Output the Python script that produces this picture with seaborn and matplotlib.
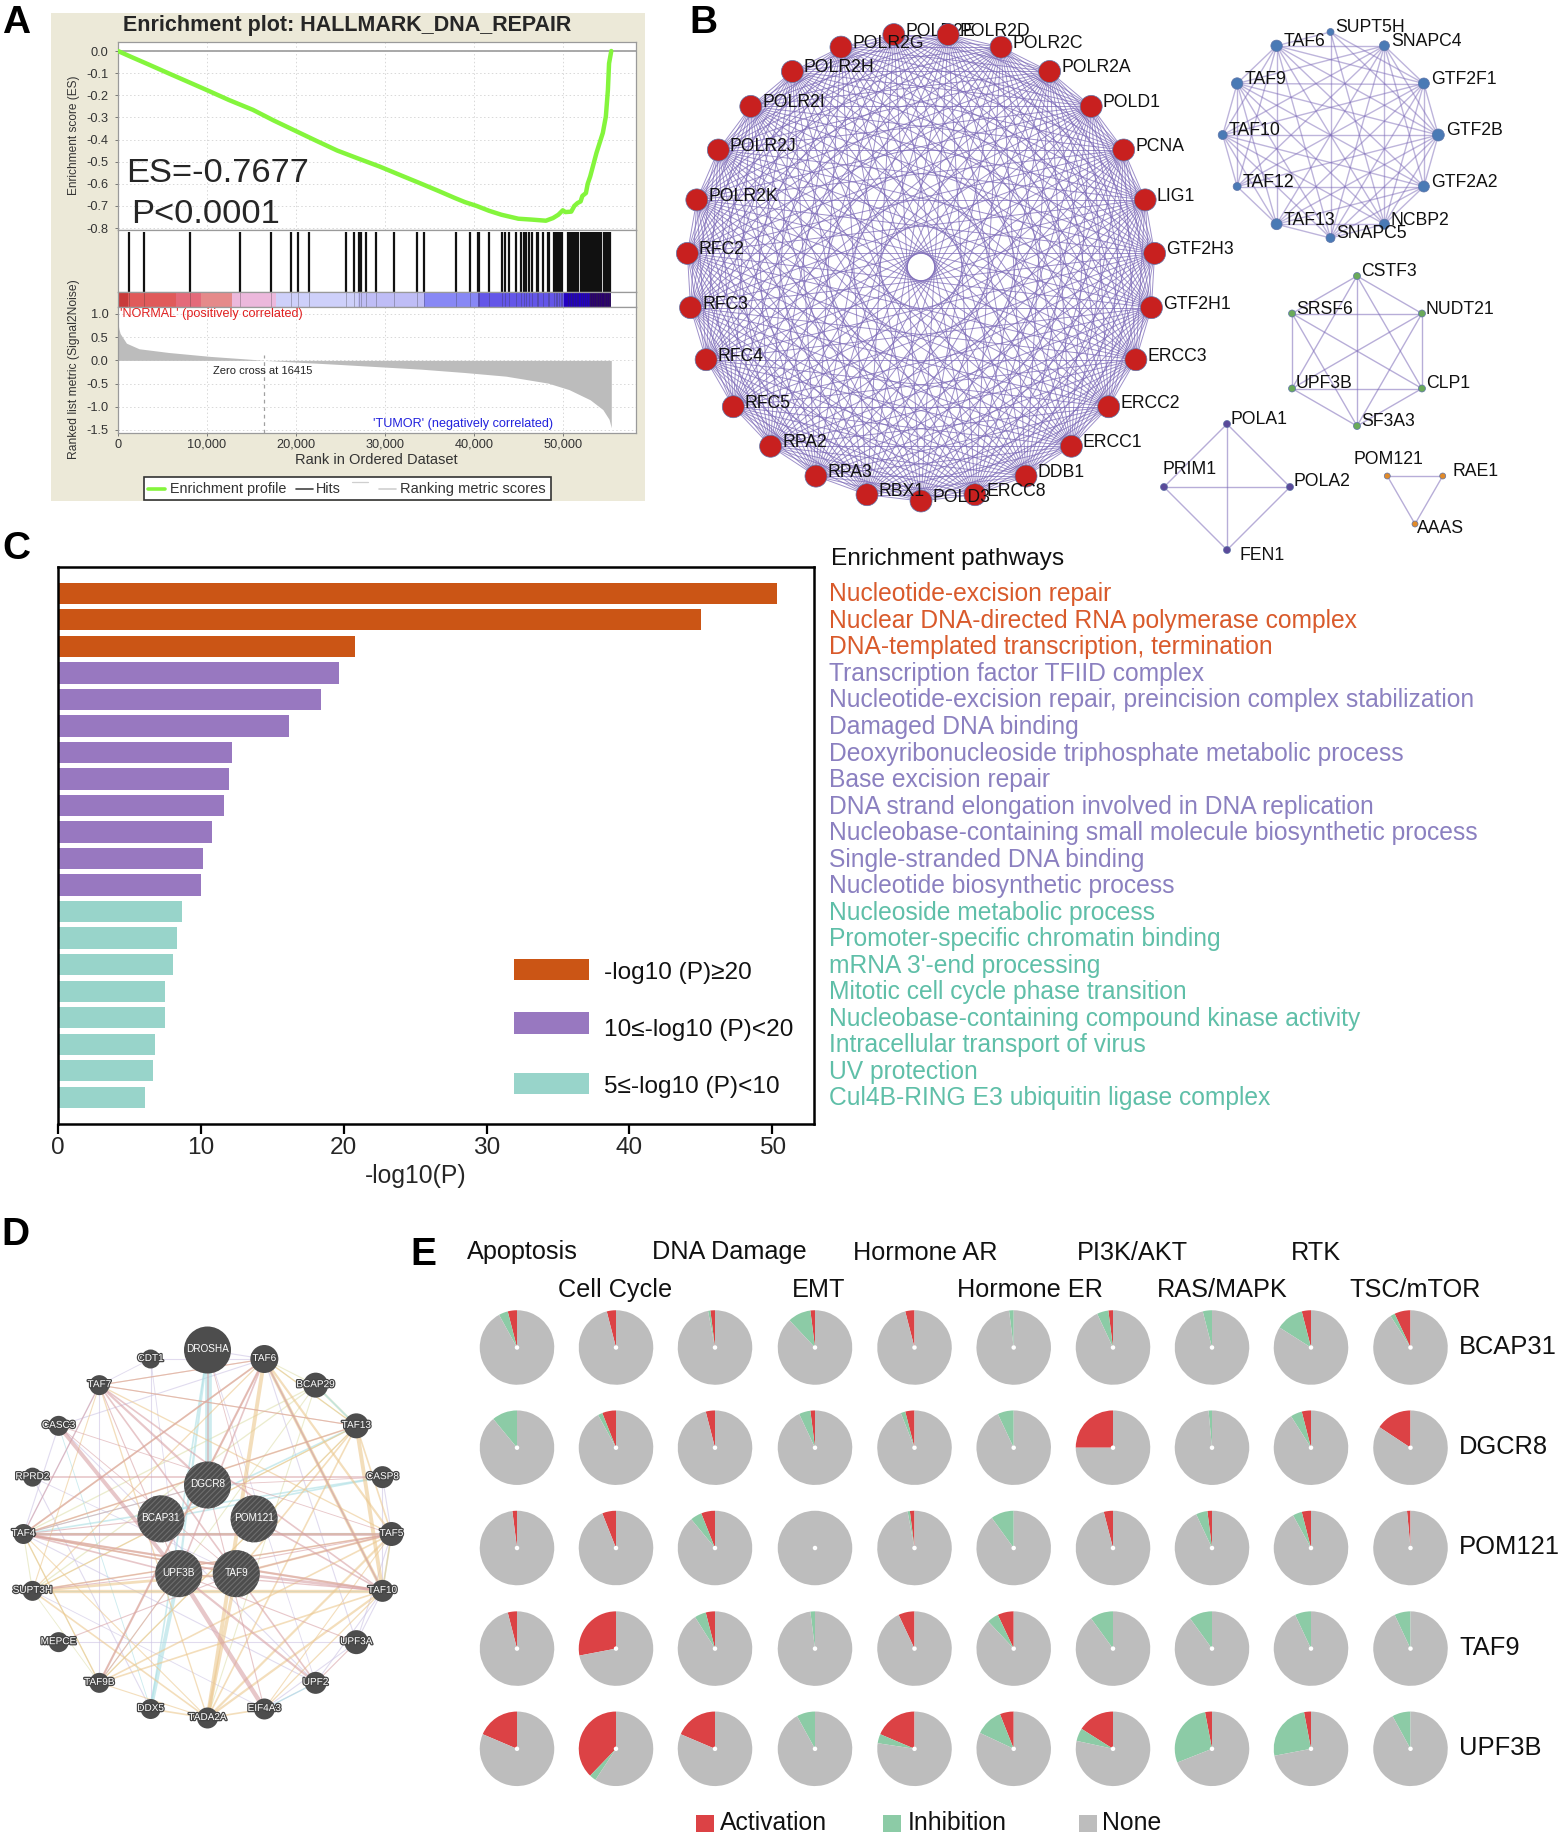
import itertools
import numpy as np
import pandas as pd
import matplotlib
matplotlib.use("Agg")
import matplotlib.pyplot as plt
import matplotlib.patheffects as pe
from matplotlib.patches import Circle, Rectangle
import seaborn as sns

# --- Panel A data ---
ES_RANK = [0, 1500, 3500, 5690, 7800, 9950, 12500, 15170, 17500, 19900, 22300, 24650, 27000, 29400, 31800,
           34100, 36000, 37900, 39000, 40300, 41700, 43100, 45000, 46500, 48100, 48900, 49500, 50000, 50300, 50950,
           51300, 51660, 52000, 52200, 52600, 52800, 53080, 53790, 54500, 54840, 55070, 55200, 55450]
ES_VALUE = [0.0, -0.027, -0.062, -0.101, -0.138, -0.176, -0.222, -0.266, -0.314, -0.36, -0.406, -0.45, -0.486,
            -0.522, -0.562, -0.60, -0.632, -0.665, -0.683, -0.70, -0.722, -0.74, -0.758, -0.762, -0.767, -0.755,
            -0.74, -0.72, -0.728, -0.726, -0.70, -0.687, -0.68, -0.655, -0.642, -0.60, -0.567, -0.46, -0.37, -0.296,
            -0.176, -0.056, 0.0]
HIT_RANKS = [1280, 2890, 8100, 13740, 17200, 19480, 20280, 21470, 25640, 26540, 27110, 27340, 27870, 28960, 30990,
             33650, 34450, 38050, 39520, 40420, 40610, 41750, 43220, 43460, 43930, 44790, 45350, 45640, 45870,
             46250, 46540, 47150, 47250, 47820, 48340, 48430, 49000, 49190, 49380, 49570, 49760, 49950, 50610,
             50800, 50990, 51180, 51370, 51560, 51750, 52040, 52220, 52510, 52700, 52900, 53100, 53300, 53500,
             53700, 53900, 54100, 54260, 54600, 54800, 55000, 55200, 55350]
BAND_EDGES = [0, 1180, 6540, 9380, 12800, 17770, 27000, 34360, 40420, 50140, 53080, 55450]
BAND_COLORS = ["#c83a3a", "#e05a5a", "#e46a7a", "#e58a8a", "#ecb8dc", "#ced0fa", "#bfbdf6", "#8888f5", "#6456e8",
               "#2200c0", "#2a006e"]
METRIC_RANK = [0, 100, 237, 950, 2370, 5690, 10400, 15170, 16415, 24650, 34100, 38870, 43600, 48340, 50700, 53080,
               54500, 55200, 55450]
METRIC_VALUE = [0.8, 0.68, 0.58, 0.37, 0.25, 0.17, 0.085, 0.02, 0.0, -0.085, -0.19, -0.26, -0.34, -0.49, -0.63,
                -0.85, -1.06, -1.27, -1.45]

# --- Panel B data ---
BIG_NODES = ["POLR2E", "POLR2D", "POLR2C", "POLR2A", "POLD1", "PCNA", "LIG1", "GTF2H3", "GTF2H1", "ERCC3", "ERCC2",
             "ERCC1", "DDB1", "ERCC8", "POLD3", "RBX1", "RPA3", "RPA2", "RFC5", "RFC4", "RFC3", "RFC2", "POLR2K",
             "POLR2J", "POLR2I", "POLR2H", "POLR2G"]
BLUE_NODES = ["SUPT5H", "SNAPC4", "GTF2F1", "GTF2B", "GTF2A2", "NCBP2", "SNAPC5", "TAF13", "TAF12", "TAF10", "TAF9",
              "TAF6"]
BLUE_RADII = [3.5, 5, 5.5, 6, 5.5, 5, 4.5, 5.5, 4, 4.5, 5.7, 5.7]
BLUE_MISSING = [("SUPT5H", "SNAPC4"), ("SUPT5H", "TAF9"), ("SUPT5H", "TAF10"), ("SUPT5H", "TAF12"),
                ("SUPT5H", "TAF13"), ("TAF12", "NCBP2"), ("TAF12", "SNAPC5"), ("SUPT5H", "GTF2A2")]
GREEN_NODES = ["CSTF3", "NUDT21", "CLP1", "SF3A3", "UPF3B", "SRSF6"]
POLA_NODES = ["POLA1", "POLA2", "FEN1", "PRIM1"]
POLA_OFFSETS = [(3.5, -5), (3.5, -5.5), (12.5, 5), (-2, -17)]
POM_NODES = ["POM121", "RAE1", "AAAS"]
POM_OFFSETS = [(-34, -16), (10, -5), (2, 4.5)]

# --- Panel C data ---
PATHWAYS = ["Nucleotide-excision repair", "Nuclear DNA-directed RNA polymerase complex",
            "DNA-templated transcription, termination", "Transcription factor TFIID complex",
            "Nucleotide-excision repair, preincision complex stabilization", "Damaged DNA binding",
            "Deoxyribonucleoside triphosphate metabolic process", "Base excision repair",
            "DNA strand elongation involved in DNA replication",
            "Nucleobase-containing small molecule biosynthetic process", "Single-stranded DNA binding",
            "Nucleotide biosynthetic process", "Nucleoside metabolic process", "Promoter-specific chromatin binding",
            "mRNA 3'-end processing", "Mitotic cell cycle phase transition",
            "Nucleobase-containing compound kinase activity", "Intracellular transport of virus", "UV protection",
            "Cul4B-RING E3 ubiquitin ligase complex"]
LOG_P = [50.3, 45.0, 20.8, 19.7, 18.4, 16.2, 12.2, 12.0, 11.65, 10.8, 10.2, 10.06, 8.7, 8.36, 8.06, 7.5, 7.5, 6.84,
         6.7, 6.14]
GROUP_NAMES = ["-log10 (P)≥20", "10≤-log10 (P)<20", "5≤-log10 (P)<10"]
GROUP_COLORS = ["#cb5515", "#9878c0", "#98d4ca"]
LABEL_COLORS = ["#d95a2b", "#8b80c0", "#5fbfa8"]

# --- Panel D data ---
OUTER_NODES = ["DROSHA", "TAF6", "BCAP29", "TAF13", "CASP8", "TAF5", "TAF10", "UPF3A", "UPF2", "EIF4A3", "TADA2A",
               "DDX5", "TAF9B", "MEPCE", "SUPT3H", "TAF4", "RPRD2", "CASC3", "TAF7", "CDT1"]
OUTER_RADII = [23.5, 14, 12.5, 12.5, 11, 12, 11, 12, 11, 10.5, 10.5, 10, 10, 10, 10, 10, 9.5, 10, 10, 9.5]
INNER_NODES = ["DGCR8", "POM121", "TAF9", "UPF3B", "BCAP31"]
PINK_EDGES = [("CASC3", "UPF3B", 3.5), ("UPF3B", "EIF4A3", 4), ("TAF4", "TAF5", 2.5), ("TAF4", "TAF10", 2),
              ("TAF7", "TAF10", 1.5), ("TAF7", "DGCR8", 2), ("TAF7", "TAF9", 1.5), ("TAF9B", "TAF6", 2),
              ("UPF3B", "UPF2", 2), ("TAF9", "UPF2", 1.5), ("TAF6", "TAF10", 1.5), ("TAF6", "UPF3B", 1.5),
              ("TAF4", "TAF9", 1.5), ("TAF4", "UPF3B", 1.5), ("RPRD2", "CASP8", 1.5), ("TAF7", "TAF13", 1),
              ("TAF7", "TAF6", 1), ("DROSHA", "DGCR8", 1.5), ("SUPT3H", "TAF5", 1), ("MEPCE", "TAF9", 1),
              ("CASC3", "TAF5", 0.8), ("TAF9", "TAF10", 2.5), ("POM121", "TAF10", 1.5), ("TAF13", "TAF4", 1),
              ("EIF4A3", "DGCR8", 1), ("UPF3A", "UPF2", 1), ("CASC3", "TAF9", 0.8), ("TAF7", "UPF3B", 1),
              ("TAF4", "DGCR8", 1), ("TAF4", "BCAP31", 1), ("TAF4", "TAF7", 1), ("TAF6", "TAF4", 1.5),
              ("CASP8", "DGCR8", 0.8), ("UPF3A", "UPF3B", 1), ("TAF9B", "UPF3B", 1), ("SUPT3H", "UPF3B", 1),
              ("TAF5", "UPF3B", 1), ("TAF10", "UPF3B", 1.2), ("TAF5", "TAF9", 1.2), ("DROSHA", "POM121", 0.8)]
TAN_EDGES = [("TAF6", "TADA2A", 3.5), ("TAF9", "TADA2A", 3), ("TAF13", "TAF10", 3.5), ("TAF6", "TAF10", 3),
             ("TAF6", "TAF5", 2), ("SUPT3H", "TAF10", 3), ("SUPT3H", "TAF9", 2.5), ("TADA2A", "TAF10", 2),
             ("TADA2A", "TAF5", 2), ("TADA2A", "TAF13", 1.5), ("TAF4", "TAF6", 1.5), ("TAF4", "TAF13", 1.5),
             ("TAF4", "TAF9", 1.5), ("TAF7", "TADA2A", 1.2), ("TAF7", "TAF5", 1.2), ("TAF9B", "TAF10", 1.5),
             ("TAF9B", "TAF5", 1.5), ("TAF9B", "TAF13", 1.2), ("SUPT3H", "TADA2A", 1.5), ("SUPT3H", "TAF6", 1.2),
             ("SUPT3H", "TAF13", 1.2), ("TAF13", "TAF5", 1.5), ("TADA2A", "DDX5", 1.5), ("TADA2A", "EIF4A3", 1.5),
             ("TAF9", "TAF5", 2), ("TAF4", "TAF10", 1.5), ("TAF13", "TAF9", 1.5), ("SUPT3H", "TAF7", 1),
             ("TAF7", "TAF6", 1), ("TADA2A", "TAF9B", 1), ("TAF4", "TADA2A", 1), ("TAF4", "TAF5", 1.5),
             ("TAF7", "TAF13", 1), ("TAF6", "TAF13", 1), ("TAF10", "TAF5", 1.5), ("TAF10", "EIF4A3", 1.2),
             ("TAF5", "EIF4A3", 1), ("TAF4", "TAF9B", 1.2), ("TAF9B", "TAF6", 1.2), ("SUPT3H", "TAF5", 1.5)]
LAVENDER_EDGES = [("CDT1", "DDX5", 1), ("TAF7", "TAF9B", 1), ("DROSHA", "TAF6", 1), ("CDT1", "TAF6", 1),
                  ("CASC3", "UPF2", 1), ("RPRD2", "DDX5", 1), ("MEPCE", "UPF3A", 1), ("TAF6", "UPF3A", 1),
                  ("EIF4A3", "UPF3A", 1), ("TAF10", "UPF2", 1), ("TAF4", "UPF2", 1), ("TAF5", "UPF3A", 1),
                  ("TAF4", "TAF7", 1.2), ("CASC3", "TAF6", 1), ("SUPT3H", "EIF4A3", 0.8), ("DROSHA", "UPF2", 0.8),
                  ("CDT1", "UPF3B", 0.8), ("TAF7", "CDT1", 0.8), ("RPRD2", "TAF9", 0.8), ("UPF3A", "TAF10", 1),
                  ("CASP8", "TAF5", 1), ("CASP8", "TAF10", 1), ("EIF4A3", "UPF2", 1), ("CASC3", "TAF4", 1)]
CYAN_EDGES = [("DROSHA", "DGCR8", 6), ("DROSHA", "UPF3B", 2), ("DDX5", "UPF3B", 3.5), ("DDX5", "DROSHA", 1.5),
              ("TAF4", "TAF5", 2), ("TAF4", "CASP8", 1.5), ("BCAP31", "TAF13", 1.5), ("TAF6", "TAF10", 1.2),
              ("CASC3", "DDX5", 0.8), ("SUPT3H", "TAF10", 1), ("EIF4A3", "UPF2", 1.2), ("BCAP29", "TAF13", 1.5),
              ("TAF4", "DGCR8", 1), ("TAF5", "TAF10", 1.2), ("BCAP31", "CASP8", 1.5)]
OLIVE_EDGES = [("BCAP29", "TAF13", 2), ("BCAP29", "TAF4", 1.2), ("BCAP29", "SUPT3H", 1.2), ("TAF13", "TAF9B", 1),
               ("SUPT3H", "TAF13", 1), ("TAF6", "TAF13", 1.2), ("TAF4", "TAF9B", 1), ("BCAP29", "TAF9B", 1),
               ("TAF6", "BCAP29", 1), ("TAF4", "SUPT3H", 1), ("BCAP29", "TADA2A", 1), ("SUPT3H", "TAF9B", 0.8)]

# --- Panel E data ---
PIE_GENES = ["BCAP31", "DGCR8", "POM121", "TAF9", "UPF3B"]
PIE_HEADERS = ["Apoptosis", "Cell Cycle", "DNA Damage", "EMT", "Hormone AR", "Hormone ER", "PI3K/AKT", "RAS/MAPK",
               "RTK", "TSC/mTOR"]
ACTIVATION = [[4, 4, 2, 2, 4, 0, 2, 0, 4, 7],
              [0, 6, 4, 2, 4, 0, 25, 0, 4, 15.7],
              [2, 6, 6, 0, 2, 0, 4, 2, 4, 1.5],
              [4, 28, 4, 0, 7, 7, 0, 0, 0, 0],
              [18.6, 37.8, 18.6, 0, 18.6, 6, 16, 3, 3, 0]]
INHIBITION = [[4, 0, 1, 10, 0, 2, 5, 4, 12, 2],
              [11, 2, 0, 5, 2, 7, 0, 1.5, 5, 0],
              [0, 0, 5, 0, 1, 10, 0, 5, 4, 0],
              [0, 0, 5, 2, 0, 5, 10, 10, 7, 7],
              [0, 2.9, 0, 8, 4, 12, 5.6, 28, 25, 8]]
PIE_COLORS = ["#dc4245", "#8ccba6", "#bdbdbd"]

W, H = 1562, 1838
GRAPH_PURPLE = "#7d6bb8"

sns.set_theme(style="white")
plt.rcParams["font.family"] = ["Liberation Sans", "DejaVu Sans"]
plt.rcParams["hatch.linewidth"] = 0.8
fig = plt.figure(figsize=(W / 100, H / 100), dpi=100, facecolor="white")


def add_ax(x0, y0, x1, y1, **kwargs):
    # axes from reference pixel box
    return fig.add_axes([x0 / W, 1 - y1 / H, (x1 - x0) / W, (y1 - y0) / H], **kwargs)


def ring(names, cx, cy, r, start=90.0, ry=None):
    # clockwise circular layout
    ry = r if ry is None else ry
    step = 360.0 / len(names)
    out = {}
    for i, name in enumerate(names):
        a = np.deg2rad(start - i * step)
        out[name] = (cx + r * np.cos(a), cy - ry * np.sin(a))
    return out


def pixel_layer(zorder):
    ax = add_ax(0, 0, W, H, zorder=zorder)
    ax.set_xlim(0, W)
    ax.set_ylim(H, 0)
    ax.axis("off")
    ax.patch.set_visible(False)
    return ax


# beige backing goes below the GSEA axes, everything free-standing goes above
back = pixel_layer(0)
page = pixel_layer(3)

for letter, x, y in [("A", 2, 33), ("B", 689, 33), ("C", 2, 559), ("D", 1, 1245), ("E", 410, 1265)]:
    page.text(x, y, letter, fontsize=28, fontweight="bold", color="black", va="baseline", ha="left", zorder=10)

# ------ Panel A ------
back.add_patch(Rectangle((50.6, 13), 594.4, 488, facecolor="#ece9d8", edgecolor="none", zorder=0))
page.text(347.5, 25, "Enrichment plot: HALLMARK_DNA_REPAIR", fontsize=15.5, fontweight="bold", ha="center", va="center")

X_MAX = 58195
x_ticks = [0, 10000, 20000, 30000, 40000, 50000]
ax_es = add_ax(118, 42, 635.7, 230, zorder=2)
ax_hits = add_ax(118, 230, 635.7, 292, zorder=2)
ax_band = add_ax(118, 292, 635.7, 307, zorder=2)
ax_metric = add_ax(118, 307, 635.7, 433, zorder=2)

sns.lineplot(x=ES_RANK, y=ES_VALUE, ax=ax_es, color="#84f53c", linewidth=3.2, sort=False, errorbar=None, zorder=3)
ax_es.axhline(0, color="#a8a8a8", lw=1.4, zorder=2)
ax_es.set_xlim(0, X_MAX)
ax_es.set_ylim(-0.809, 0.0407)
ax_es.set_yticks([0, -0.1, -0.2, -0.3, -0.4, -0.5, -0.6, -0.7, -0.8])
ax_es.set_yticklabels(["0.0", "-0.1", "-0.2", "-0.3", "-0.4", "-0.5", "-0.6", "-0.7", "-0.8"])
ax_es.set_xticks(x_ticks)
ax_es.tick_params(labelbottom=False)
ax_es.text(870, -0.553, "ES=-0.7677", fontsize=24.8, va="center")
ax_es.text(1500, -0.738, "P<0.0001", fontsize=24.8, va="center")

ax_hits.vlines(HIT_RANKS, 0, 0.96, color="#111111", lw=1.6)
ax_hits.set_xlim(0, X_MAX)
ax_hits.set_ylim(0, 1)
ax_hits.set_xticks([])
ax_hits.set_yticks([])

for i, c in enumerate(BAND_COLORS):
    ax_band.axvspan(BAND_EDGES[i], BAND_EDGES[i + 1], color=c, lw=0)
ax_band.vlines(HIT_RANKS, 0, 1, color="#333333", lw=0.6, alpha=0.35)
ax_band.set_xlim(0, X_MAX)
ax_band.set_ylim(0, 1)
ax_band.set_xticks([])
ax_band.set_yticks([])

ax_metric.fill_between(METRIC_RANK, METRIC_VALUE, 0, color="#bcbcbc", lw=0, zorder=2)
ax_metric.axvline(16415, color="#a0a0a0", lw=0.9, ls=(0, (3, 3)), ymax=0.62, zorder=3)
ax_metric.set_xlim(0, X_MAX)
ax_metric.set_ylim(-1.565, 1.15)
ax_metric.set_yticks([1.0, 0.5, 0.0, -0.5, -1.0, -1.5])
ax_metric.set_yticklabels(["1.0", "0.5", "0.0", "-0.5", "-1.0", "-1.5"])
ax_metric.set_xticks(x_ticks)
ax_metric.set_xticklabels(["0", "10,000", "20,000", "30,000", "40,000", "50,000"])
ax_metric.text(250, 1.0, "'NORMAL' (positively correlated)", color="#e02020", fontsize=9.1, va="center")
ax_metric.text(28700, -1.38, "'TUMOR' (negatively correlated)", color="#2222dd", fontsize=9.1, va="center", ha="left")
ax_metric.text(10700, -0.235, "Zero cross at 16415", color="#222222", fontsize=8.0, va="center")

for ax in (ax_es, ax_metric):
    ax.grid(True, color="#d8d8d8", lw=0.7, ls=(0, (1.5, 2.5)))
    ax.set_axisbelow(True)
    ax.tick_params(axis="y", labelsize=9.2, length=2, width=0.6, color="#666666", pad=5, labelcolor="#333333", left=True)
    ax.tick_params(axis="x", labelsize=9.2, length=2, width=0.6, color="#666666", pad=2, labelcolor="#333333", bottom=True)
for ax in (ax_es, ax_hits, ax_band, ax_metric):
    ax.set_facecolor("white")
    for s in ax.spines.values():
        s.set_color("#9a9a9a")
        s.set_linewidth(0.9)

page.text(74.5, 135.5, "Enrichment score (ES)", rotation=90, fontsize=8.6, ha="center", va="center", color="#333333")
page.text(74.5, 369, "Ranked list metric (Signal2Noise)", rotation=90, fontsize=8.7, ha="center", va="center", color="#333333")
page.text(376.8, 460, "Rank in Ordered Dataset", fontsize=10.5, ha="center", va="center", color="#333333")

# legend box of panel A
page.add_patch(Rectangle((144, 477), 407.4, 23, facecolor="white", edgecolor="#333333", lw=1.2, zorder=1))
page.plot([148, 165], [489, 489], color="#84f53c", lw=2.6, zorder=2)
page.text(170, 489, "Enrichment profile", fontsize=10.4, va="center", color="#333333", zorder=2)
page.plot([296, 313], [489, 489], color="#444444", lw=1.2, zorder=2)
page.text(316, 489, "Hits", fontsize=10.4, va="center", color="#333333", zorder=2)
page.plot([352, 368], [482, 482], color="#cfcfcf", lw=0.9, zorder=2)
page.plot([379, 396], [489, 489], color="#d0d0d0", lw=1.2, zorder=2)
page.text(400, 489, "Ranking metric scores", fontsize=10.5, va="center", color="#333333", zorder=2)


# ------ Panel B ------
def draw_net(pos, edges, colors, radii, offsets, edge_lw=0.9, edge_alpha=0.6, fontsize=12.7):
    for a, b in edges:
        page.plot([pos[a][0], pos[b][0]], [pos[a][1], pos[b][1]], color=GRAPH_PURPLE, lw=edge_lw, alpha=edge_alpha,
                  zorder=1, solid_capstyle="round")
    for i, (name, (x, y)) in enumerate(pos.items()):
        page.add_patch(Circle((x, y), radii[i], facecolor=colors, edgecolor="#5f74a8", lw=0.5, zorder=3))
        dx, dy = offsets[i]
        # the first big-ring label sits under its neighbour node, as in the figure
        z = 2 if name == "POLR2E" else 4
        page.text(x + dx, y + dy, name, fontsize=fontsize, va="center", ha="left", color="#111111", zorder=z)


big_pos = ring(BIG_NODES, 921, 267, 234, start=90 + 180 / 27)
draw_net(big_pos, list(itertools.combinations(BIG_NODES, 2)), "#c8201f", [11] * 27, [(11.5, -3.5)] * 27,
         edge_lw=0.7, edge_alpha=0.75)

blue_pos = ring(BLUE_NODES, 1330.5, 135, 107.8, ry=103)
blue_edges = [e for e in itertools.combinations(BLUE_NODES, 2) if e not in BLUE_MISSING and e[::-1] not in BLUE_MISSING]
draw_net(blue_pos, blue_edges, "#4a7ab5", BLUE_RADII, [(r + 1.5, -4.2) for r in BLUE_RADII], edge_lw=1.0, edge_alpha=0.5)

green_pos = ring(GREEN_NODES, 1357, 351, 75)
draw_net(green_pos, list(itertools.combinations(GREEN_NODES, 2)), "#6aaa5a", [3.5] * 6, [(4, -4.5)] * 6, edge_lw=1.0,
         edge_alpha=0.55)

pola_pos = ring(POLA_NODES, 1227, 487, 63)
draw_net(pola_pos, list(itertools.combinations(POLA_NODES, 2)), "#5a4a9a", [3.5] * 4, POLA_OFFSETS, edge_lw=1.0,
         edge_alpha=0.55)

pom_pos = ring(POM_NODES, 1415, 492, 32, start=150)
draw_net(pom_pos, list(itertools.combinations(POM_NODES, 2)), "#e08a2a", [3] * 3, POM_OFFSETS, edge_lw=1.0,
         edge_alpha=0.55)

# ------ Panel C ------
groups = [GROUP_NAMES[0]] * 3 + [GROUP_NAMES[1]] * 9 + [GROUP_NAMES[2]] * 8
bars = pd.DataFrame({"pathway": PATHWAYS, "logp": LOG_P, "group": groups})
ax_bar = add_ax(57.6, 566.8, 813.5, 1123.5, zorder=2)
sns.barplot(data=bars, x="logp", y="pathway", hue="group", palette=dict(zip(GROUP_NAMES, GROUP_COLORS)), dodge=False,
            width=0.806, saturation=1, legend=False, ax=ax_bar, linewidth=0)
ax_bar.set_xlim(0, 52.87)
ax_bar.set_ylim(19.987, -0.998)
ax_bar.set_xticks([0, 10, 20, 30, 40, 50])
ax_bar.set_xlabel("-log10(P)", fontsize=17.8)
ax_bar.xaxis.set_label_coords((415.6 - 57.6) / 755.9, -0.0735)
ax_bar.set_ylabel("")
ax_bar.tick_params(axis="x", labelsize=17.6, length=7, width=1.6, color="black", bottom=True, pad=2.5)
ax_bar.tick_params(axis="y", left=False, labelleft=False)
for s in ax_bar.spines.values():
    s.set_color("black")
    s.set_linewidth(1.8)
    s.set_visible(True)
for i, name in enumerate(PATHWAYS):
    c = LABEL_COLORS[GROUP_NAMES.index(groups[i])]
    ax_bar.text(53.95, i + 0.04, name, color=c, fontsize=17.76, va="center", ha="left", clip_on=False)
page.text(830.6, 559, "Enrichment pathways", fontsize=17.6, va="center", color="#111111")
for (y0, y1), c in zip([(959, 980), (1012, 1033.6), (1072.6, 1094)], GROUP_COLORS):
    page.add_patch(Rectangle((514, y0), 75, y1 - y0, facecolor=c, edgecolor="none", zorder=5))
for ty, name in zip([973, 1030, 1087], GROUP_NAMES):
    page.text(603.5, ty, name, fontsize=17.6, va="center", color="#111111", zorder=6)

# ------ Panel D ------
d_outer = ring(OUTER_NODES, 207.5, 1534, 184)
d_inner = ring(INNER_NODES, 207.5, 1534, 49)
d_pos = {**d_outer, **d_inner}
for edge_list, color in [(OLIVE_EDGES, "#dfe0ae"), (LAVENDER_EDGES, "#cdc4e4"), (CYAN_EDGES, "#abdfe4"),
                         (TAN_EDGES, "#ecc88f"), (PINK_EDGES, "#d8a2a6")]:
    for a, b, lw in edge_list:
        page.plot([d_pos[a][0], d_pos[b][0]], [d_pos[a][1], d_pos[b][1]], color=color, lw=lw * 0.8, alpha=0.6, zorder=1)
NODE_GREY = "#4d4d4d"
stroke = [pe.withStroke(linewidth=1.8, foreground="#444444")]
for name, r in zip(OUTER_NODES, OUTER_RADII):
    x, y = d_outer[name]
    page.add_patch(Circle((x, y), r, facecolor=NODE_GREY, edgecolor="none", zorder=3))
    t = page.text(x, y - 1, name, fontsize=7.2, color="white", ha="center", va="center", zorder=4)
    if name != "DROSHA":
        t.set_path_effects(stroke)
for name in INNER_NODES:
    x, y = d_inner[name]
    page.add_patch(Circle((x, y), 23.5, facecolor=NODE_GREY, edgecolor="#6e6e6e", hatch="//////", lw=0, zorder=3))
    page.text(x, y - 1, name, fontsize=7.2, color="white", ha="center", va="center", zorder=4)

# ------ Panel E ------
PIE_X = [517, 616, 715, 815, 914.5, 1013.7, 1113, 1212, 1311, 1410.5]
PIE_Y = [1347.5, 1447.7, 1548, 1648.6, 1748.8]
PIE_R = 38
for row, gene in enumerate(PIE_GENES):
    for col in range(len(PIE_HEADERS)):
        a = ACTIVATION[row][col]
        b = INHIBITION[row][col]
        ax_pie = add_ax(PIE_X[col] - PIE_R, PIE_Y[row] - PIE_R, PIE_X[col] + PIE_R, PIE_Y[row] + PIE_R, zorder=4)
        ax_pie.pie([a, b, 100 - a - b], colors=PIE_COLORS, startangle=90, radius=1.0,
                   wedgeprops=dict(width=0.94, linewidth=0))
        ax_pie.set_xlim(-1.02, 1.02)
        ax_pie.set_ylim(-1.02, 1.02)
    page.text(1459, PIE_Y[row] - 1, gene, fontsize=18.4, va="center", color="#111111")

for name, x, y in zip(PIE_HEADERS,
                      [522, 615.5, 729, 819, 925, 1030, 1132.6, 1222, 1316, 1415],
                      [1252.5, 1290, 1252.5, 1290, 1252.5, 1290, 1252.5, 1290, 1252.5, 1290]):
    page.text(x, y, name, fontsize=18.2, ha="center", va="center", color="#111111")

for (sx, tx), name, c in zip([(696, 720), (883, 908), (1079, 1102)], ["Activation", "Inhibition", "None"], PIE_COLORS):
    page.add_patch(Rectangle((sx, 1815), 18, 17, facecolor=c, edgecolor="none"))
    page.text(tx, 1823.5, name, fontsize=17.8, va="center", color="#111111")

fig.savefig("out.png", dpi=100, facecolor="white")
